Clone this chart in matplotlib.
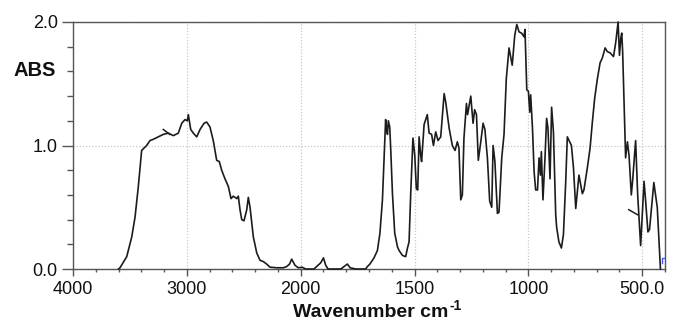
import numpy as np
import matplotlib
matplotlib.use("Agg")
import matplotlib.pyplot as plt

plt.rcParams['font.family'] = ['Liberation Sans', 'DejaVu Sans']

# ---- data ----
wavenumber = [3600, 3587, 3528, 3484, 3455, 3426, 3397, 3353, 3324, 3295, 3251, 3207,
              3163, 3119, 3075, 3045, 3016, 2996, 2987, 2966, 2943, 2913, 2884, 2849,
              2826, 2797, 2768, 2738, 2715, 2694, 2665, 2636, 2612, 2592, 2562, 2548,
              2533, 2518, 2498, 2474, 2460, 2445, 2416, 2386, 2357, 2328, 2299, 2270,
              2211, 2153, 2123, 2098, 2079, 2050, 2021, 1993, 1978, 1942, 1912, 1900,
              1890, 1880, 1824, 1802, 1795, 1783, 1758, 1715, 1707, 1696, 1678, 1663,
              1652, 1641, 1634, 1627, 1622, 1619, 1615, 1609, 1605, 1597, 1587, 1575,
              1568, 1553, 1539, 1531, 1524, 1517, 1507, 1499, 1492, 1486, 1480, 1473,
              1469, 1458, 1444, 1436, 1425, 1417, 1407, 1397, 1385, 1370, 1363, 1348,
              1334, 1322, 1312, 1305, 1297, 1290, 1283, 1272, 1267, 1253, 1243, 1236,
              1228, 1220, 1209, 1199, 1191, 1180, 1170, 1161, 1155, 1147, 1136, 1129,
              1117, 1107, 1097, 1085, 1071, 1060, 1051, 1041, 1030, 1019, 1015, 1007,
              1000, 994, 990, 982, 975, 968, 960, 953, 947, 943, 936, 927,
              920, 914, 905, 898, 890, 880, 876, 866, 855, 846, 836, 829,
              811, 802, 792, 778, 763, 756, 741, 729, 719, 709, 697, 685,
              675, 663, 653, 641, 626, 616, 606, 600, 594, 590, 586, 580,
              573, 565, 558, 548, 542, 529, 520, 507, 492, 485, 475, 468,
              449, 434, 420]
absorbance = [0.0, 0.01, 0.10, 0.26, 0.42, 0.67, 0.96, 1.00, 1.04, 1.05, 1.07, 1.09,
              1.10, 1.08, 1.10, 1.18, 1.21, 1.20, 1.25, 1.13, 1.10, 1.07, 1.13, 1.18,
              1.19, 1.15, 1.04, 0.88, 0.87, 0.80, 0.73, 0.67, 0.57, 0.59, 0.57, 0.59,
              0.48, 0.40, 0.39, 0.48, 0.58, 0.50, 0.26, 0.13, 0.07, 0.06, 0.04, 0.015,
              0.01, 0.01, 0.02, 0.04, 0.08, 0.03, 0.01, 0.014, 0.0, 0.0, 0.05, 0.09,
              0.03, 0.0, 0.0, 0.03, 0.04, 0.01, 0.0, 0.0, 0.02, 0.04, 0.09, 0.15,
              0.29, 0.56, 0.88, 1.21, 1.13, 1.09, 1.20, 1.15, 0.99, 0.61, 0.29, 0.18,
              0.15, 0.11, 0.10, 0.17, 0.22, 0.60, 1.06, 0.92, 0.65, 0.64, 1.07, 0.92,
              0.87, 1.17, 1.25, 1.10, 1.09, 1.00, 1.11, 1.04, 1.07, 1.42, 1.35, 1.14,
              1.00, 0.96, 1.03, 0.98, 0.56, 0.60, 1.06, 1.34, 1.25, 1.40, 1.18, 1.29,
              1.25, 0.88, 1.03, 1.18, 1.13, 0.90, 0.55, 0.50, 1.00, 0.87, 0.45, 0.46,
              0.90, 1.09, 1.54, 1.79, 1.65, 1.89, 1.98, 1.92, 1.91, 1.88, 1.94, 1.45,
              1.44, 1.27, 1.41, 1.14, 0.79, 0.64, 0.64, 0.90, 0.76, 0.95, 0.56, 0.90,
              1.22, 1.14, 0.73, 1.31, 1.11, 0.44, 0.34, 0.22, 0.17, 0.28, 0.71, 1.07,
              1.00, 0.82, 0.49, 0.76, 0.61, 0.64, 0.82, 0.98, 1.19, 1.38, 1.54, 1.67,
              1.71, 1.79, 1.76, 1.75, 1.72, 1.84, 2.00, 1.73, 1.87, 1.91, 1.76, 1.35,
              0.90, 1.03, 0.92, 0.60, 0.72, 1.04, 0.60, 0.19, 0.71, 0.55, 0.30, 0.32,
              0.70, 0.50, 0.0]

# small overlapping trace fragments
frag1_wn = [3207, 3150]
frag1_abs = [1.13, 1.09]
frag2_wn = [559, 521]
frag2_abs = [0.48, 0.44]
blue_wn = [412, 412, 400]
blue_abs = [0.05, 0.09, 0.09]

major_x = [4000, 3000, 2000, 1500, 1000, 500]
major_x_labels = ['4000', '3000', '2000', '1500', '1000', '500.0']
minor_x = [3800, 3600, 3400, 3200, 2800, 2600, 2400, 2200,
           1900, 1800, 1700, 1600, 1400, 1300, 1200, 1100,
           900, 800, 700, 600, 400]
major_y = [0.0, 1.0, 2.0]
major_y_labels = ['0.0', '1.0', '2.0']


def fwd(x):
    x = np.asarray(x, dtype=float)
    return np.where(x > 2000, 2000 + (x - 2000) / 2.0, x)


def inv(y):
    y = np.asarray(y, dtype=float)
    return np.where(y > 2000, 2000 + (y - 2000) * 2.0, y)


fig = plt.figure(figsize=(6.73, 3.22), dpi=100)
ax = fig.add_axes([73 / 673, 1 - 269 / 322, 592 / 673, 247 / 322])
ax.set_xscale('function', functions=(fwd, inv))

line_c = '#1c1c1c'
ax.plot(wavenumber, absorbance, color=line_c, lw=1.2, zorder=3, clip_on=False,
        solid_joinstyle='round')
ax.plot(frag1_wn, frag1_abs, color=line_c, lw=1.1, zorder=3)
ax.plot(frag2_wn, frag2_abs, color=line_c, lw=1.1, zorder=3)
ax.plot(blue_wn, blue_abs, color='#3b5bff', lw=1.0, zorder=3)

ax.set_xlim(4000, 400)
ax.set_ylim(0, 2.0)

ax.set_xticks(major_x, major_x_labels)
ax.set_xticks(minor_x, minor=True)
ax.set_yticks(major_y, major_y_labels)
ax.set_yticks(np.arange(0, 2.01, 0.2), minor=True)

spine_c = '#555555'
for s in ax.spines.values():
    s.set_color(spine_c)
    s.set_linewidth(1.0)

ax.tick_params(axis='x', which='major', length=5, width=1.0, color=spine_c,
               labelsize=13, pad=4, labelcolor='#111111')
ax.tick_params(axis='x', which='minor', length=2.5, width=1.0, color=spine_c)
ax.tick_params(axis='y', which='major', length=8, width=1.0, color=spine_c,
               labelsize=13, pad=3, labelcolor='#111111')
ax.tick_params(axis='y', which='minor', length=4.5, width=1.0, color=spine_c)

ax.grid(True, which='major', axis='both', color='#c8c8c8', linestyle=(0, (1, 1.5)),
        linewidth=0.9, zorder=0)

fig.text(13 / 673, 1 - 71 / 322, 'ABS', fontsize=14.5, fontweight='bold',
         ha='left', va='center', color='#111111')
fig.text(448 / 673, 1 - 317 / 322, 'Wavenumber cm', fontsize=14,
         fontweight='bold', ha='right', va='baseline', color='#111111')
fig.text(449 / 673, 1 - 310 / 322, '-1', fontsize=10,
         fontweight='bold', ha='left', va='baseline', color='#111111')

fig.savefig('out.png', dpi=100)
